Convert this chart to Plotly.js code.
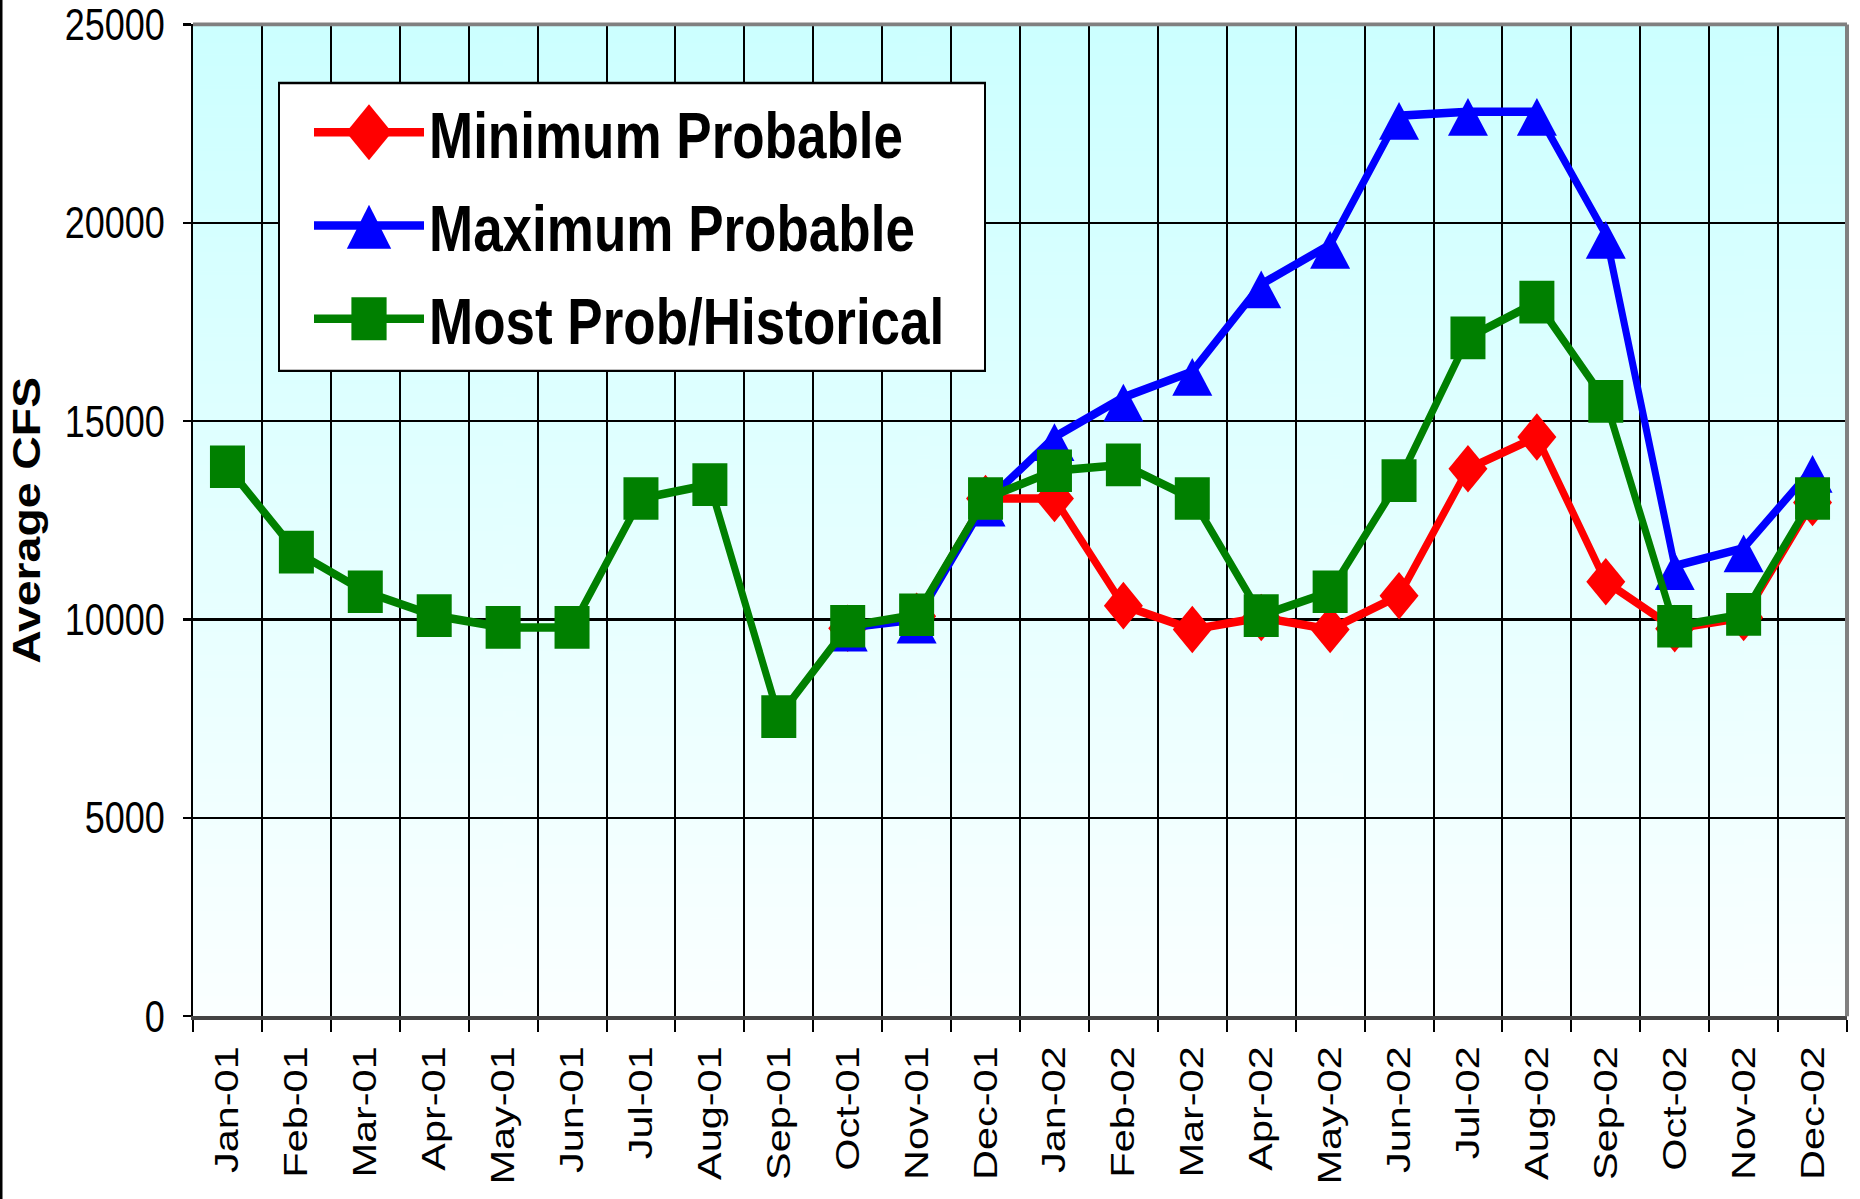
<!DOCTYPE html>
<html>
<head>
<meta charset="utf-8">
<script src="https://cdn.plot.ly/plotly-3.0.1.min.js"></script>
<style>
  html, body { margin: 0; padding: 0; background: #fff; overflow: hidden; width: 1860px; height: 1199px; }
  #plot { width: 1860px; height: 983px; transform: scaleY(1.22); transform-origin: 0 0; }
</style>
</head>
<body>
<div id="plot"></div>
<script>
// ---- data ----
const months = ["Jan-01","Feb-01","Mar-01","Apr-01","May-01","Jun-01","Jul-01","Aug-01","Sep-01","Oct-01","Nov-01","Dec-01",
                "Jan-02","Feb-02","Mar-02","Apr-02","May-02","Jun-02","Jul-02","Aug-02","Sep-02","Oct-02","Nov-02","Dec-02"];
const minimumProbable = [null,null,null,null,null,null,null,null,null,9780,10080,13050,
                         13050,10350,9750,10050,9750,10600,13800,14600,10950,9770,10050,12950];
const maximumProbable = [null,null,null,null,null,null,null,null,null,9800,10000,12950,
                         14600,15600,16250,18450,19450,22700,22800,22800,19700,11350,11800,13800];
const mostProbHistorical = [13850,11700,10700,10100,9800,9800,13050,13400,7550,9830,10120,13050,
                            13750,13900,13050,10100,10700,13500,17100,18000,15500,9830,10130,13050];
const seriesNames = ["Minimum Probable","Maximum Probable","Most Prob/Historical"];
const yTickVals = [0,5000,10000,15000,20000,25000];

// gradient background image for plot area
function gradientURL() {
  const c = document.createElement('canvas');
  c.width = 8; c.height = 512;
  const ctx = c.getContext('2d');
  const g = ctx.createLinearGradient(0, 0, 0, 512);
  g.addColorStop(0, '#ccffff');
  g.addColorStop(1, '#fbffff');
  ctx.fillStyle = g;
  ctx.fillRect(0, 0, 8, 512);
  return c.toDataURL('image/png');
}

const FONT = 'Liberation Sans, Arial, sans-serif';

const traces = [
  { x: months, y: minimumProbable, name: seriesNames[0], legendgroup: 'a', type: 'scatter', mode: 'lines+markers',
    line: { color: '#ff0000', width: 7 }, marker: { symbol: 'diamond', size: 30, color: '#ff0000' } },
  { x: months, y: maximumProbable, name: seriesNames[1], legendgroup: 'b', type: 'scatter', mode: 'lines+markers',
    line: { color: '#0000ff', width: 7 }, marker: { symbol: 'triangle-up', size: 33, color: '#0000ff' } },
  { x: months, y: mostProbHistorical, name: seriesNames[2], legendgroup: 'c', type: 'scatter', mode: 'lines+markers',
    line: { color: '#008000', width: 7 }, marker: { symbol: 'square', size: 35, color: '#008000' } }
];

// legend box (paper coords of the plot area)
const boxX0 = (279 - 193) / 1654, boxX1 = (985 - 193) / 1654;
const boxY1 = 1 - (68 - 20) / 813, boxY0 = 1 - (304 - 20) / 813;

const layout = {
  width: 1860, height: 983,
  margin: { l: 193, r: 13, t: 20, b: 150 },
  paper_bgcolor: '#ffffff',
  plot_bgcolor: 'rgba(0,0,0,0)',
  showlegend: true,
  font: { family: FONT, color: '#000' },
  images: [{ source: gradientURL(), xref: 'paper', yref: 'paper', x: 0, y: 1, sizex: 1, sizey: 1,
             xanchor: 'left', yanchor: 'top', sizing: 'stretch', layer: 'below' }],
  xaxis: {
    type: 'category', range: [-0.5, 23.5], tickson: 'boundaries',
    showgrid: true, gridcolor: '#000', gridwidth: 2,
    showline: true, linecolor: '#444', linewidth: 3,
    ticks: 'outside', ticklen: 10, tickwidth: 2, tickcolor: '#000',
    ticklabelstandoff: 8, ticklabeloverflow: 'allow',
    tickangle: -90, tickfont: { family: FONT, size: 34, color: '#000' },
    fixedrange: true
  },
  yaxis: {
    range: [0, 25000], tickvals: yTickVals, tickformat: 'd',
    showgrid: true, gridcolor: '#000', gridwidth: 1.7, zeroline: false,
    showline: true, linecolor: '#000', linewidth: 2,
    ticks: 'outside', ticklen: 8, tickwidth: 2, tickcolor: '#000',
    ticklabelstandoff: 11, ticklabeloverflow: 'allow',
    tickfont: { family: FONT, size: 36, color: '#000' },
    title: { text: 'Average CFS', font: { family: FONT, size: 38, weight: 'bold', color: '#000' }, standoff: 12 },
    fixedrange: true
  },
  legend: {
    x: (309 - 193) / 1654, y: 0.9416, xanchor: 'left', yanchor: 'top',
    bgcolor: 'rgba(0,0,0,0)', borderwidth: 0,
    font: { family: FONT, size: 53, weight: 'bold', color: '#000' },
    itemwidth: 110, tracegroupgap: 4.5
  },
  shapes: [
    { type: 'rect', xref: 'paper', yref: 'paper', x0: boxX0, x1: boxX1, y0: boxY0, y1: boxY1,
      fillcolor: '#ffffff', line: { color: '#000', width: 2 }, layer: 'above' },
    { type: 'line', xref: 'paper', yref: 'paper', x0: 0, x1: 1, y0: 1, y1: 1, line: { color: '#808080', width: 3 } },
    { type: 'line', xref: 'paper', yref: 'paper', x0: 1, x1: 1, y0: 0, y1: 1, line: { color: '#808080', width: 4 } },
    { type: 'line', xref: 'paper', yref: 'paper', x0: -192/1654, x1: -192/1654, y0: -150/813, y1: 1 + 20/813, line: { color: '#000', width: 3 } }
  ]
};

Plotly.newPlot('plot', traces, layout, { displayModeBar: false, staticPlot: true }).then(function (gd) {
  // enlarge legend symbols to match the plotted markers
  const legendScale = [[2.2, 2.2, 0], [2.4, 3.0, 7], [2.2, 2.2, 0]];
  gd.querySelectorAll('.legend .traces').forEach(function (tr, i) {
    const s = legendScale[i] || [2.2, 2.2, 0];
    tr.querySelectorAll('.legendpoints path.scatterpts').forEach(function (p) {
      const t = p.getAttribute('transform') || '';
      p.setAttribute('transform', t + ' translate(0,' + s[2] + ') scale(' + s[0] + ',' + s[1] + ')');
    });
  });
  // taller triangles for the maximum series (recentered on the data point)
  const scatterTraces = gd.querySelectorAll('.scatterlayer .trace');
  if (scatterTraces[1]) {
    const r = 33 / 2, sy = 1.25;
    const dy = 0.457 * r * sy;
    scatterTraces[1].querySelectorAll('.points path.point').forEach(function (p) {
      const t = p.getAttribute('transform') || '';
      p.setAttribute('transform', t + ' translate(0,' + dy.toFixed(2) + ') scale(1.05,' + sy + ')');
    });
  }
});
</script>
</body>
</html>
